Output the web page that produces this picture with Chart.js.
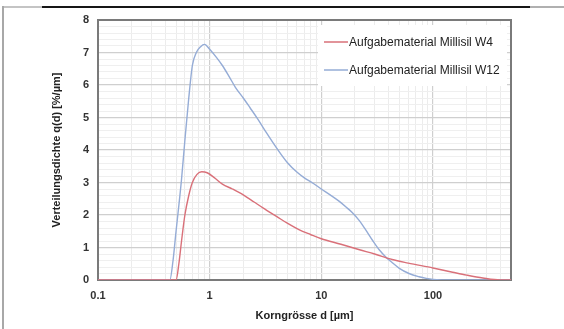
<!DOCTYPE html>
<html>
<head>
<meta charset="utf-8">
<script src="https://cdn.jsdelivr.net/npm/chart.js@4/dist/chart.umd.min.js"></script>
<style>
  html, body { margin: 0; padding: 0; background: #fff; }
  #wrap { position: relative; width: 564px; height: 329px; overflow: hidden; }
  canvas { position: absolute; left: 0; top: 0; }
  .ln { position: absolute; }
</style>
</head>
<body>
<div id="wrap">
  <canvas id="c" width="564" height="329"></canvas>
  <div class="ln" style="left:3px;top:6px;width:39px;height:2px;background:#c4c4c4"></div>
  <div class="ln" style="left:42px;top:6px;width:488px;height:2px;background:#161616"></div>
  <div class="ln" style="left:530px;top:6px;width:34px;height:2px;background:#b0b0b0"></div>
  <div class="ln" style="left:2px;top:6px;width:2px;height:323px;background:#a8a8a8"></div>
</div>
<script>
// ---- data ----
const seriesNames = ['Aufgabematerial Millisil W4', 'Aufgabematerial Millisil W12'];

const w4Size = [0.1, 0.5, 0.53, 0.56, 0.6, 0.65, 0.7, 0.77, 0.85, 0.95, 1.1, 1.3, 1.6, 2, 2.5, 3, 4, 5, 6.3, 8, 10, 15, 22, 30, 43, 60, 100, 150, 200, 280, 400, 500];
const w4Density = [0, 0, 0.5, 1.2, 2.0, 2.6, 3.0, 3.25, 3.33, 3.3, 3.15, 2.95, 2.8, 2.62, 2.4, 2.22, 1.95, 1.74, 1.55, 1.4, 1.27, 1.1, 0.93, 0.8, 0.63, 0.52, 0.37, 0.24, 0.15, 0.06, 0, 0];

const w12Size = [0.1, 0.44, 0.47, 0.5, 0.53, 0.56, 0.6, 0.65, 0.7, 0.76, 0.83, 0.9, 1.0, 1.15, 1.3, 1.5, 1.7, 2.0, 2.3, 2.7, 3.2, 4, 5, 6, 7, 8.5, 10, 12, 14.5, 17, 19, 22, 25, 29, 33, 38, 43, 50, 61, 75, 87, 100, 150, 500];
const w12Density = [0, 0, 0.6, 1.5, 2.3, 3.1, 4.3, 5.6, 6.6, 7.0, 7.18, 7.25, 7.1, 6.85, 6.6, 6.25, 5.93, 5.6, 5.3, 4.95, 4.55, 4.05, 3.6, 3.33, 3.15, 2.97, 2.8, 2.62, 2.42, 2.22, 2.07, 1.82, 1.54, 1.2, 0.93, 0.7, 0.54, 0.36, 0.2, 0.1, 0.05, 0.02, 0, 0];

const xTicks = [0.1,0.2,0.3,0.4,0.5,0.6,0.7,0.8,0.9,1,2,3,4,5,6,7,8,9,10,20,30,40,50,60,70,80,90,100,200,300,400,500];
const xTickLabels = ['0.1', '1', '10', '100'];
const yTickLabels = ['0','1','2','3','4','5','6','7','8'];

const colors = ['#d97079', '#95acd6'];

function pts(xs, ys) { return xs.map((x, i) => ({ x: x, y: ys[i] })); }
function isMajorX(v) { return xTickLabels.some(l => Math.abs(parseFloat(l) - v) < 1e-9); }

const frameAndLegend = {
  id: 'frameAndLegend',
  beforeDatasetsDraw(chart) {
    const ctx = chart.ctx, a = chart.chartArea;
    ctx.save();
    ctx.fillStyle = '#ffffff';
    ctx.fillRect(318, 25, a.right - 318 - 4, 61);
    ctx.font = '12px "Liberation Sans", Arial, sans-serif';
    ctx.textBaseline = 'middle';
    ctx.textAlign = 'left';
    const ys = [42, 70];
    seriesNames.forEach((n, i) => {
      ctx.strokeStyle = colors[i];
      ctx.lineWidth = 1.5;
      ctx.beginPath();
      ctx.moveTo(324, ys[i]);
      ctx.lineTo(348, ys[i]);
      ctx.stroke();
      ctx.fillStyle = '#222';
      ctx.fillText(n, 349, ys[i] + 1);
    });
    ctx.strokeStyle = '#7a7a7a';
    ctx.lineWidth = 2;
    ctx.strokeRect(a.left, a.top, a.right - a.left, a.bottom - a.top);
    ctx.restore();
  }
};

new Chart(document.getElementById('c'), {
  type: 'scatter',
  data: {
    datasets: [
      { label: seriesNames[0], data: pts(w4Size, w4Density), showLine: true, borderColor: colors[0], borderWidth: 1.4, pointRadius: 0, cubicInterpolationMode: 'monotone', fill: false },
      { label: seriesNames[1], data: pts(w12Size, w12Density), showLine: true, borderColor: colors[1], borderWidth: 1.4, pointRadius: 0, cubicInterpolationMode: 'monotone', fill: false }
    ]
  },
  options: {
    responsive: false,
    animation: false,
    layout: { padding: { left: 0, top: 20, right: 53, bottom: 0 } },
    plugins: { legend: { display: false }, tooltip: { enabled: false } },
    scales: {
      x: {
        type: 'logarithmic',
        min: 0.1, max: 500,
        afterBuildTicks(s) { s.ticks = xTicks.map(v => ({ value: v })); },
        afterFit(s) { s.height = 49; },
        grid: {
          drawTicks: false,
          color: c => (c.tick && isMajorX(c.tick.value)) ? '#cfcfcf' : '#ececec',
          lineWidth: c => (c.tick && isMajorX(c.tick.value)) ? 1.2 : 1
        },
        border: { display: true, color: '#7a7a7a', width: 2 },
        ticks: {
          autoSkip: false, maxRotation: 0, padding: 9,
          color: '#333',
          font: { family: '"Liberation Sans", Arial, sans-serif', size: 11, weight: 'bold' },
          callback: v => { const i = xTickLabels.findIndex(l => Math.abs(parseFloat(l) - v) < 1e-9); return i >= 0 ? xTickLabels[i] : ''; }
        },
        title: {
          display: true, text: 'Korngrösse d [µm]', color: '#222',
          font: { family: '"Liberation Sans", Arial, sans-serif', size: 11, weight: 'bold' },
          padding: { top: 0, bottom: 6 }
        }
      },
      y: {
        min: 0, max: 8,
        afterFit(s) { s.width = 98; },
        grid: {
          drawTicks: false,
          color: c => (c.tick && Math.abs(c.tick.value - Math.round(c.tick.value)) < 1e-6) ? '#cfcfcf' : '#efefef',
          lineWidth: c => (c.tick && Math.abs(c.tick.value - Math.round(c.tick.value)) < 1e-6) ? 1.2 : 1
        },
        border: { display: true, color: '#7a7a7a', width: 2 },
        ticks: {
          stepSize: 0.2, autoSkip: false, padding: 9,
          color: '#333',
          font: { family: '"Liberation Sans", Arial, sans-serif', size: 11, weight: 'bold' },
          callback: v => { const r = Math.round(v); return Math.abs(v - r) < 1e-6 ? yTickLabels[r] : ''; }
        },
        title: {
          display: true, text: 'Verteilungsdichte q(d) [%/µm]', color: '#222',
          font: { family: '"Liberation Sans", Arial, sans-serif', size: 11, weight: 'bold' },
          padding: { top: 50, bottom: 0 }
        }
      }
    }
  },
  plugins: [frameAndLegend]
});
</script>
</body>
</html>
